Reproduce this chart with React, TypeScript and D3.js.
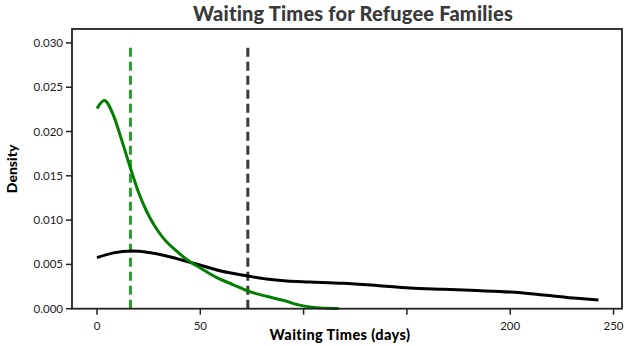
import React from "react";
import * as d3 from "d3";

const greenDays = [0, 3.5, 8, 12, 16, 20, 24, 28, 32, 38, 45, 50, 58, 66, 73, 82, 90, 98, 105, 112, 117];
const greenDensity = [0.0226, 0.0235, 0.0218, 0.019, 0.016, 0.0132, 0.011, 0.0093, 0.008, 0.0066, 0.0053, 0.0046, 0.0035, 0.0027, 0.002, 0.0014, 0.00095, 0.0004, 0.00015, 0.00004, 0.00001];
const blackDays = [0, 8, 16.7, 25, 33.6, 41, 49.8, 60, 73, 82, 91.8, 103, 119.2, 135.4, 151.5, 167.7, 183.8, 200, 216, 232.3, 242.7];
const blackDensity = [0.00576, 0.0063, 0.00651, 0.00635, 0.00595, 0.0055, 0.00493, 0.00425, 0.00369, 0.00335, 0.00313, 0.00302, 0.00287, 0.00262, 0.00234, 0.00219, 0.00205, 0.00188, 0.00155, 0.00117, 0.00098];
const medianLines = [
  { days: 16.2, color: "#2ca02c" },
  { days: 73.0, color: "#3a3a3a" },
];
const xTicks = [0, 50, 100, 150, 200, 250];
const xTickLabels = ["0", "50", "", "", "200", "250"];
const yTicks = [0, 0.005, 0.01, 0.015, 0.02, 0.025, 0.03];

const W = 631;
const H = 346;
const left = 72;
const right = 622;
const top = 29;
const bottom = 308.7;

export default function App() {
  const x = d3.scaleLinear().domain([-12.1, 254.1]).range([left, right]);
  const y = d3.scaleLinear().domain([0, 0.03157]).range([bottom, top]);
  const line = d3
    .line<[number, number]>()
    .x((d) => x(d[0]))
    .y((d) => y(d[1]))
    .curve(d3.curveMonotoneX);
  const greenPts = greenDays.map((d, i) => [d, greenDensity[i]] as [number, number]);
  const blackPts = blackDays.map((d, i) => [d, blackDensity[i]] as [number, number]);
  const font = "Lato, 'DejaVu Sans', sans-serif";
  return (
    <svg
      width={W}
      height={H}
      style={{ position: "fixed", left: 0, top: 0, background: "#fff" }}
      fontFamily={font}
    >
      <rect x={0} y={0} width={W} height={H} fill="#fff" />
      <text x={353} y={21} textAnchor="middle" fontSize={20} fontWeight={900} fill="#3a3a3a" letterSpacing={0.2}>
        Waiting Times for Refugee Families
      </text>
      {medianLines.map((m, i) => (
        <line
          key={i}
          x1={x(m.days)}
          x2={x(m.days)}
          y1={y(0)}
          y2={y(0.03)}
          stroke={m.color}
          strokeWidth={3}
          strokeDasharray="9,5"
        />
      ))}
      <path d={line(blackPts) || ""} fill="none" stroke="#000" strokeWidth={3} />
      <path d={line(greenPts) || ""} fill="none" stroke="#008000" strokeWidth={3} />
      <rect x={left} y={top} width={right - left} height={bottom - top} fill="none" stroke="#222" strokeWidth={1.8} />
      {yTicks.map((t) => (
        <g key={t}>
          <line x1={left - 6} x2={left} y1={y(t)} y2={y(t)} stroke="#222" strokeWidth={1.5} />
          <text x={left - 9} y={y(t) + 4} textAnchor="end" fontSize={11.5} fill="#222">
            {d3.format(".3f")(t)}
          </text>
        </g>
      ))}
      {xTicks.map((t, i) => (
        <g key={t}>
          <line x1={x(t)} x2={x(t)} y1={bottom} y2={bottom + 6} stroke="#222" strokeWidth={1.5} />
          <text x={x(t)} y={bottom + 21} textAnchor="middle" fontSize={11.5} fill="#222">
            {xTickLabels[i]}
          </text>
        </g>
      ))}
      <text x={340} y={340} textAnchor="middle" fontSize={14.5} fontWeight={900} fill="#000" letterSpacing={0.4}>
        Waiting Times (days)
      </text>
      <text
        transform={`translate(17, ${(top + bottom) / 2}) rotate(-90)`}
        textAnchor="middle"
        fontSize={14}
        fontWeight={900}
        fill="#000"
      >
        Density
      </text>
    </svg>
  );
}
